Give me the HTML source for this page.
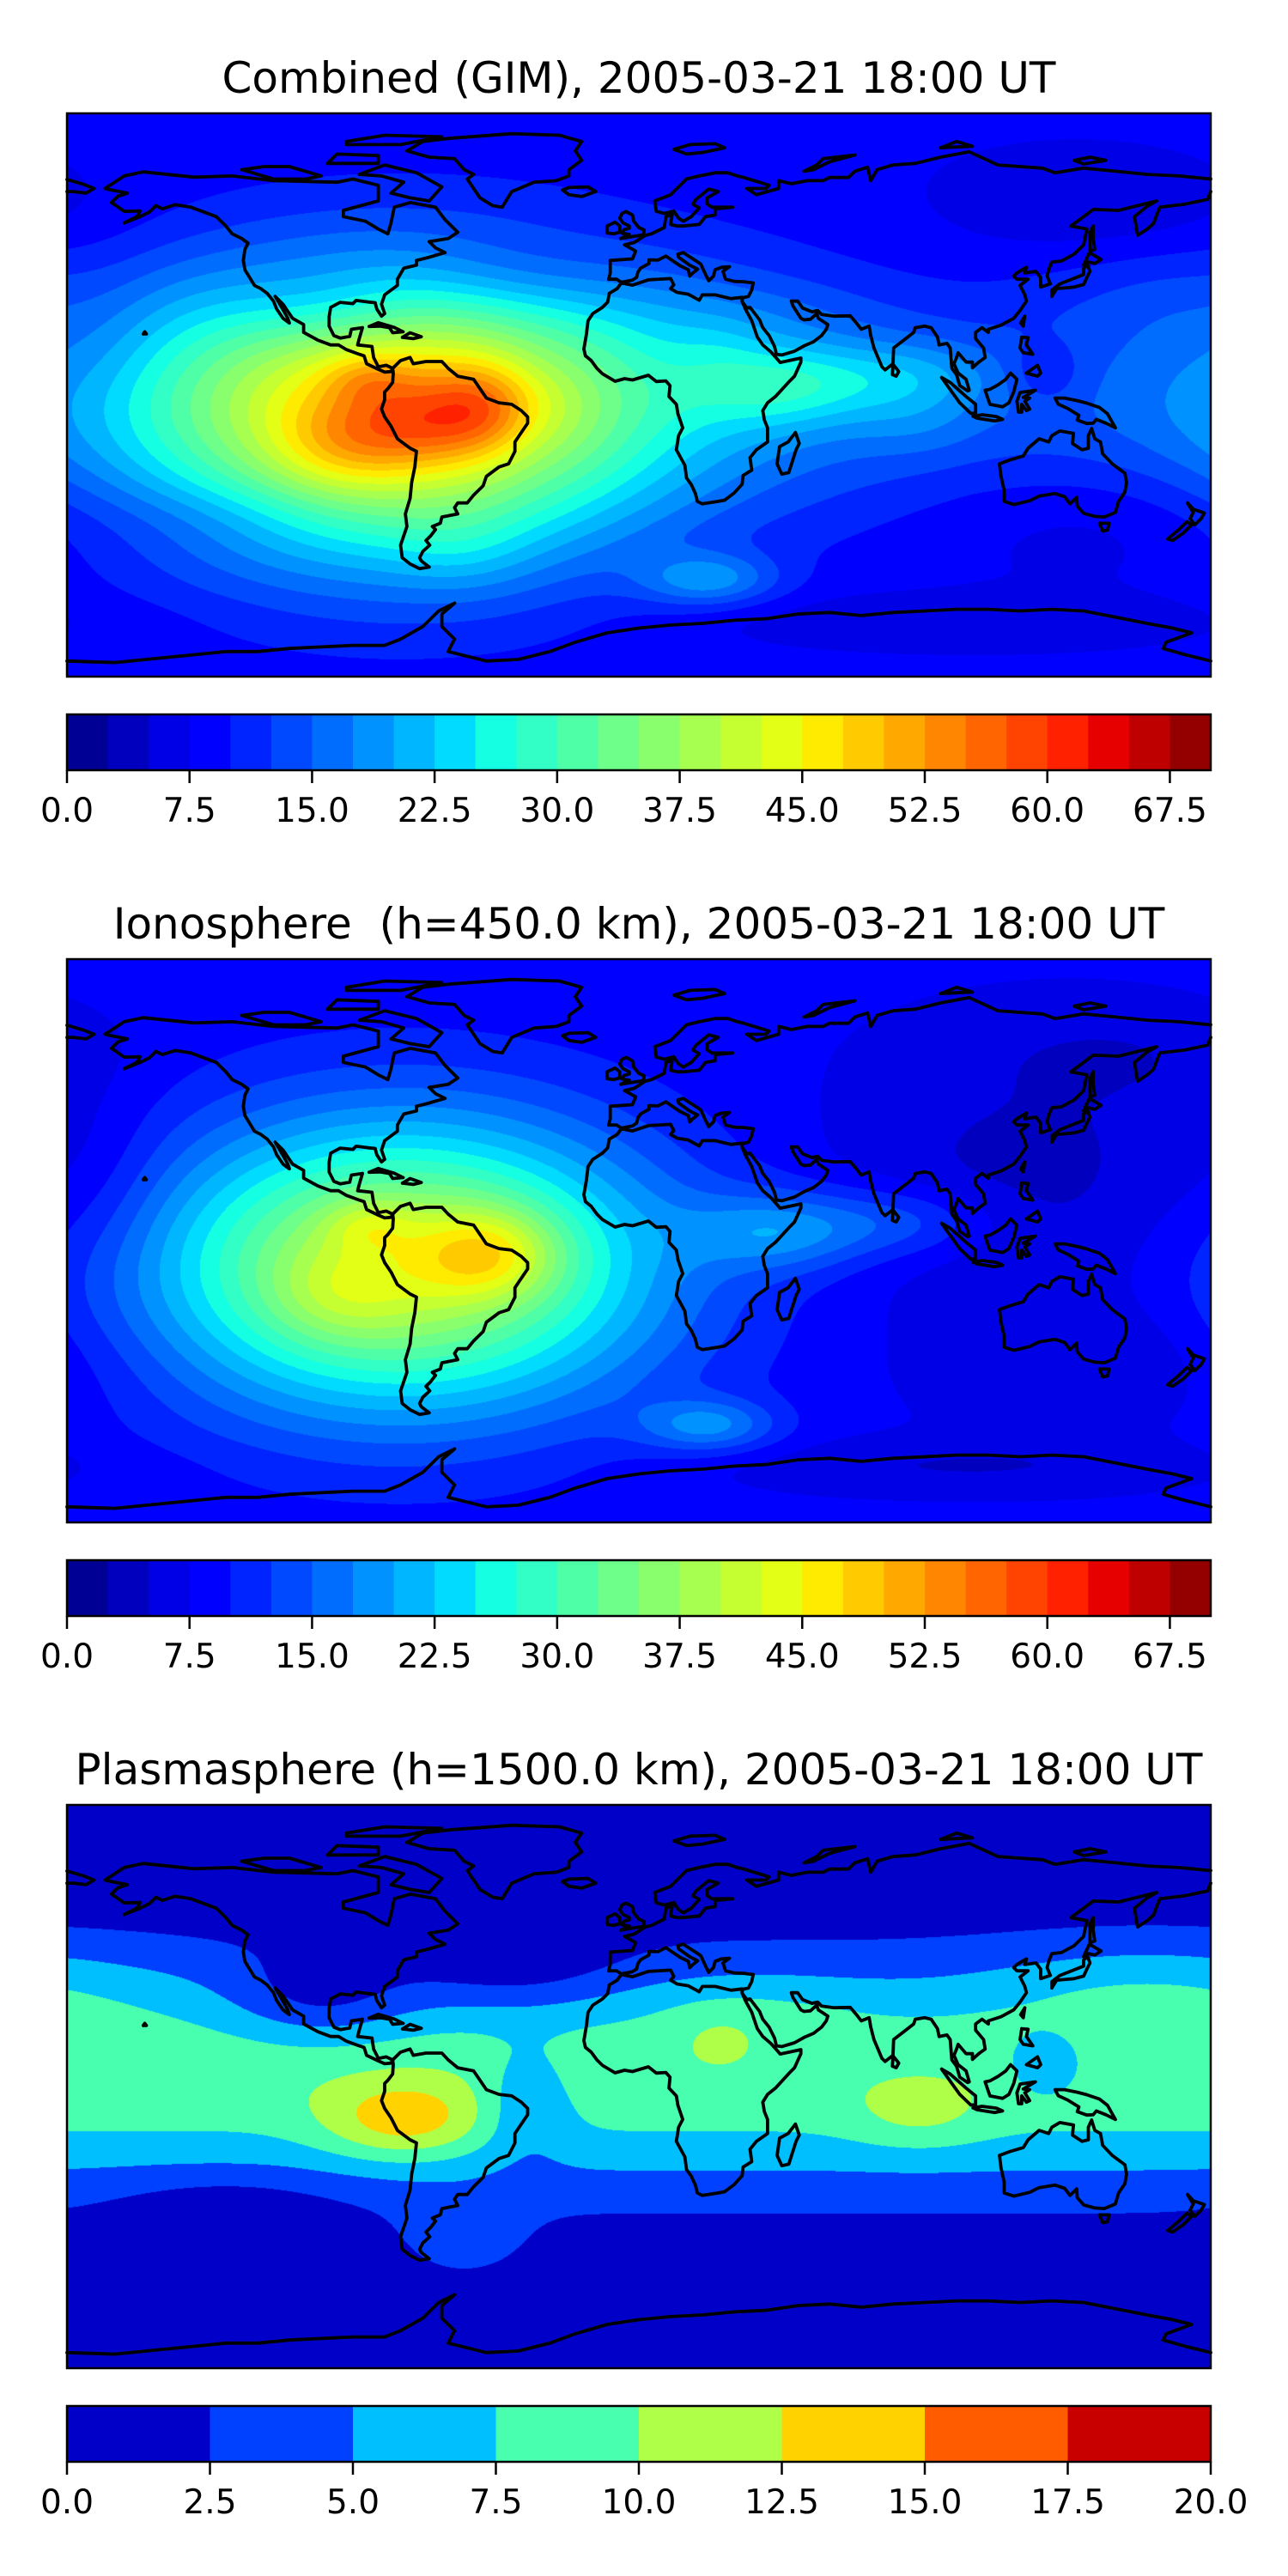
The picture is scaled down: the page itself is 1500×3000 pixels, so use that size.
<!DOCTYPE html>
<html><head><meta charset="utf-8"><style>
html,body{margin:0;padding:0;background:#fff;}
#wrap{position:relative;width:1500px;height:3000px;overflow:hidden;background:#fff;}
canvas{position:absolute;}
svg{position:absolute;left:0;top:0;}
text{font-family:"DejaVu Sans","Liberation Sans",sans-serif;fill:#000;}
</style></head><body>
<div id="wrap">
<canvas id="c0" width="1332" height="656" style="left:78px;top:132px"></canvas>
<canvas id="c1" width="1332" height="656" style="left:78px;top:1117px"></canvas>
<canvas id="c2" width="1332" height="656" style="left:78px;top:2102px"></canvas>
<svg id="ov" width="1500" height="3000"></svg>
</div>
<script>
// ---- data: ionosphere field (base + gaussian blobs) ----
const ionoBase = 8;
const ionoLon  = [-75, -47, -95, -85, 45, 85, 22, 130, 150, 100, 150, -170];
const ionoLat  = [-8, -4, -18, 5, 3, 6, -59, 20, -40, -72, 60, 20];
const ionoAmp  = [34, 11, 4, 5, 9, 6, 9, -4, -3, -3, -2, -2];
const ionoSLon = [55, 15, 15, 10, 20, 20, 15, 50, 40, 60, 30, 15];
const ionoSLat = [32, 10, 10, 6, 9, 8, 6, 30, 15, 6, 10, 20];
// ---- data: plasmasphere field (equatorial band + blobs) ----
const plasBandAmp = 9.2, plasBandLat = 3, plasBandSigma = 27;
const plasLon  = [-74, -100, -35, -40, 25, 35, 88, 160, 128, -130, -55];
const plasLat  = [-11, 28, -5, 38, 15, 25, -9, 32, 7, -38, -50];
const plasAmp  = [6, -4, -3.5, -3, 1.5, 1.5, 2.5, 2.5, -4, -2, 2.5];
const plasSLon = [18, 20, 10, 25, 10, 25, 15, 35, 8, 25, 15];
const plasSLat = [9, 10, 12, 10, 7, 8, 8, 12, 7, 8, 10];
// ---- colorbar data ----
const tecTicks = [0, 7.5, 15, 22.5, 30, 37.5, 45, 52.5, 60, 67.5];
const plasTicks = [0, 2.5, 5, 7.5, 10, 12.5, 15, 17.5, 20];
const titles = ["Combined (GIM), 2005-03-21 18:00 UT",
  "Ionosphere  (h=450.0 km), 2005-03-21 18:00 UT",
  "Plasmasphere (h=1500.0 km), 2005-03-21 18:00 UT"];

const W = 1332, H = 656, X0 = 78, TOP = [132, 1117, 2102];
function lonX(lon){ return X0 + (lon + 180) / 360 * W; }
function latY(lat, p){ return TOP[p] + (90 - lat) / 180 * H; }

function interp(x, pts){
  for (let i = 1; i < pts.length; i++) {
    if (x <= pts[i][0]) { const a = pts[i-1], b = pts[i]; return a[1] + (b[1]-a[1]) * (x-a[0]) / (b[0]-a[0]); }
  }
  return pts[pts.length-1][1];
}
function jet(t){
  const r = interp(t, [[0,0],[0.35,0],[0.66,1],[0.89,1],[1,0.5]]);
  const g = interp(t, [[0,0],[0.125,0],[0.375,1],[0.64,1],[0.91,0],[1,0]]);
  const b = interp(t, [[0,0.5],[0.11,1],[0.34,1],[0.65,0],[1,0]]);
  return [Math.round(r*255), Math.round(g*255), Math.round(b*255)];
}
function field(base, lons, lats, amps, sl, st){
  const F = new Float32Array(W*H).fill(base);
  for (let k = 0; k < lons.length; k++) {
    const gx = new Float32Array(W), gy = new Float32Array(H);
    for (let i = 0; i < W; i++) {
      const lon = -180 + (i+0.5)/W*360;
      let d = Math.abs(lon - lons[k]); if (d > 180) d = 360 - d;
      gx[i] = Math.exp(-d*d/(2*sl[k]*sl[k]));
    }
    for (let j = 0; j < H; j++) {
      const lat = 90 - (j+0.5)/H*180, d = lat - lats[k];
      gy[j] = amps[k] * Math.exp(-d*d/(2*st[k]*st[k]));
    }
    for (let j = 0; j < H; j++) { const o = j*W, y = gy[j]; for (let i = 0; i < W; i++) F[o+i] += y*gx[i]; }
  }
  return F;
}
const iono = field(ionoBase, ionoLon, ionoLat, ionoAmp, ionoSLon, ionoSLat);
const plas = field(0, plasLon, plasLat, plasAmp, plasSLon, plasSLat);
for (let j = 0; j < H; j++) {
  const lat = 90 - (j+0.5)/H*180, d = lat - plasBandLat;
  const v = plasBandAmp * Math.exp(-d*d/(2*plasBandSigma*plasBandSigma));
  for (let i = 0; i < W; i++) plas[j*W+i] += v;
}
const comb = new Float32Array(W*H);
for (let n = 0; n < W*H; n++) comb[n] = iono[n] + plas[n];

function paint(id, F, nb){
  const ctx = document.getElementById(id).getContext('2d');
  const img = ctx.createImageData(W, H);
  const cols = []; for (let b = 0; b < nb; b++) cols.push(jet((b+0.5)/nb));
  for (let n = 0; n < W*H; n++) {
    let b = Math.floor(F[n]/2.5); if (b < 0) b = 0; if (b > nb-1) b = nb-1;
    const c = cols[b]; img.data[4*n] = c[0]; img.data[4*n+1] = c[1]; img.data[4*n+2] = c[2]; img.data[4*n+3] = 255;
  }
  ctx.putImageData(img, 0, 0);
}
paint('c0', comb, 28); paint('c1', iono, 28); paint('c2', plas, 8);

// ---- coastlines (lon,lat) ----
const coasts = [
[[-168,66],[-162,70],[-156,71.3],[-140,69.6],[-128,70],[-115,68.5],[-95,68],[-90,69],[-82,67],[-82,62],[-93,59],[-93,57],[-86,55.5],[-82,53],[-79,51.5],[-78,55],[-77,60],[-72,61.5],[-64,60],[-61,56],[-57,52],[-60,50],[-66,49],[-64,47],[-61,45.5],[-66,44],[-70,43],[-70,41.5],[-74,40.5],[-76,37],[-76,35],[-80,32],[-81,29],[-80,26],[-81,25.2],[-82.5,27.5],[-83,29.5],[-85,29.7],[-89,30.2],[-90,29.2],[-94,29.6],[-97,28],[-97.5,25],[-97.5,22],[-96,19],[-94,18.2],[-91,18.7],[-90.5,21],[-87,21.5],[-88,18],[-88.5,16],[-84,15.5],[-83.5,12],[-82,9],[-79.5,9.5],[-77.5,8.5],[-78,7.5],[-80,7.3],[-82,8.2],[-85.7,10],[-86.5,12.5],[-88,13],[-92,14.5],[-94.5,16],[-97,16],[-101,17.5],[-105.5,20],[-105.5,22.5],[-109,24.5],[-112,29],[-114.5,31.5],[-113,29],[-110.5,24.5],[-110,23],[-112,24.5],[-114,27.5],[-115,30],[-117,32.5],[-119,34],[-121,35],[-122.5,37.5],[-124,40],[-124.5,43],[-124,46.5],[-123,48.5],[-125,50],[-128,51.5],[-130,54],[-133,57],[-137,58.5],[-141,60],[-146,60.8],[-150,59.5],[-152,60.5],[-154,58.5],[-157,57],[-162,55],[-158,57],[-157,58.8],[-162,58.7],[-164.5,60.5],[-166,61.5],[-164,63.5],[-161,64.5],[-166,65.5],[-168,66]],
[[-73,78],[-68,81],[-60,82],[-40,83.5],[-25,83],[-18,81],[-20,78],[-18,75],[-22,72],[-22,70],[-26,68.5],[-33,68],[-40,65],[-43,60],[-46,60.5],[-50,63],[-52,66],[-54,69],[-52,70.5],[-55,72],[-58,75.5],[-66,76],[-73,78]],
[[-62,66.5],[-66,62],[-72,63],[-78,64.5],[-74,68],[-81,70],[-88,70.5],[-80,73.5],[-70,71],[-62,66.5]],
[[-110,73],[-118,73],[-125,72],[-115,69],[-105,69],[-100,70],[-110,73]],
[[-92,80],[-75,80],[-62,82.5],[-80,83],[-92,81],[-92,80]],
[[-98,74],[-82,74],[-82,76.5],[-95,77],[-98,74]],
[[-77.5,8.5],[-75,11],[-72,12],[-71,10],[-67,10.7],[-62,10.7],[-60,8.5],[-57,6],[-52,5],[-50,2],[-48,-1],[-44,-2.5],[-40,-3],[-37,-5],[-35,-7],[-35,-9],[-37,-12],[-39,-15],[-39,-18],[-41,-22],[-44,-23],[-48,-26],[-49,-29],[-52,-32],[-54,-34.5],[-57,-34.5],[-58,-36],[-57,-38],[-62,-39],[-62.5,-41],[-65,-42],[-64,-43],[-65.5,-45],[-67,-46.5],[-65.8,-48],[-68,-50],[-69,-52],[-68.5,-53],[-66,-55],[-69,-55.5],[-72,-54],[-74.5,-52],[-75,-48],[-74,-45],[-73,-42],[-73.5,-38],[-72,-33],[-71.5,-28],[-70.5,-23],[-70,-18],[-72,-17],[-76,-14],[-78,-10],[-80,-7],[-81,-4.5],[-80,-1.5],[-80,1],[-79,2],[-77.5,4],[-77.3,7],[-77.5,8.5]],
[[-9.5,37],[-9,39],[-9,43],[-2,43.5],[-1,46],[-4.5,48],[-1.5,48.7],[2,51],[4,51.5],[8,53.5],[8.5,57],[10.5,57.7],[10,54.5],[12,54],[14,54],[19,54.5],[21,57],[24,57.5],[24,59.5],[29.5,60],[23,60],[21.5,61],[21.5,63],[25,65],[22,65.8],[18,62.5],[17,61],[19,59.8],[16.5,57],[14,55.5],[12.5,56.5],[11,58.8],[8,58],[5.5,58.7],[5,62],[10,64],[13,67],[15,69],[19,70],[24,71],[28,71],[31,70],[33,69.5],[41,67],[40,66],[34,66],[37,64],[44,66],[44,68.5],[48,67.5],[53,68.5],[58,68.5],[60,69.5],[66,69.5],[68,71.5],[72,72.8],[73,68.5],[75,72],[80,73.5],[87,74],[95,76],[104,77.7],[113,73.5],[120,73],[127,72.5],[131,71],[140,72.5],[150,71.5],[160,70.5],[170,70],[180,69]],
[[180,65],[179,62.5],[172,61],[164,60],[163,57.5],[162,54.8],[160,53],[157,51],[156,57],[160,60.3],[163,62],[155,60],[151,59],[143,59.3],[140,57],[136,54],[141,53],[140,48],[137,45],[133,42.8],[130,42.5],[129,40],[128.5,38],[129.5,35.5],[126.5,34.5],[126.5,37.5],[125,39.5],[121.5,39],[122,40.8],[119,39],[118,38],[119,37],[122.5,37],[120,35],[121.5,32],[122,30],[120,27],[118,24.5],[114,22.3],[110,21],[110,20],[108,21.5],[106,20],[106,18],[108.5,15],[109,12],[107,10.5],[105,8.7],[105,10.5],[103,10.5],[100.5,13.5],[100,12],[99.2,10],[100.5,7],[103,5],[104,1.5],[103.5,1.3],[101,3],[100,6.5],[98.5,8.5],[98,15],[97,16.5],[94.5,16],[94,18.5],[92,21.5],[90,22],[87,21.5],[86.5,20],[84,18],[80.2,15],[80,10],[77.5,8],[76.5,9],[74,15],[73,19],[72.5,22],[70,21],[68.5,23],[66.5,25.3],[61.5,25.2],[57.5,25.7],[56.3,27],[54.5,26.6],[51.5,27.8],[50,30],[48,30],[48.5,28.5],[51,24.5],[52,24],[54,24.2],[56,26],[56.5,24.5],[59.5,22.5],[59,21],[57.5,19],[55,17],[52,15.7],[49,14],[45,12.8],[43.3,13],[42.7,15.5],[41,19],[39,21.5],[38,24],[35,28],[34,27.8],[32.5,29.8],[32.5,31],[34.5,31.5],[35.5,33.5],[36,35.8],[33,36.2],[30,36.3],[27.3,37],[26.5,39.5],[28.5,41],[26,40.8],[24,40],[23.5,38],[22,36.5],[21,38.5],[19.5,41.8],[18.5,42.5],[15.5,44.5],[14,45.5],[12.3,45],[12.5,44],[16,41.5],[18.5,40.2],[17,39],[16,38],[15.6,40],[13,41.3],[10.5,43],[8.5,44.4],[6,43.1],[3.2,43.2],[3.2,42],[0.5,40.5],[-0.3,39.3],[-0.7,37.6],[-2,36.7],[-5.5,36],[-7,37],[-9.5,37]],
[[-5.5,35.8],[-2,35.1],[3,36.8],[10,37.2],[11,35.2],[10,34],[12,32.8],[15.5,32.2],[19,30.3],[20,32],[24,32],[29,30.8],[32.5,31.2],[32.5,29.9],[33.5,27.5],[35.5,23.8],[37.3,18.5],[39,16],[41.5,13.8],[43.3,11.8],[44.5,10.4],[51,11.8],[51,10.5],[49,6],[47.5,4.5],[43,-0.5],[40.5,-2.5],[39,-5],[39.5,-8],[40.5,-10.5],[40.5,-15],[37,-17.5],[35,-20],[35.5,-24],[32.8,-25.7],[32.5,-28.5],[30,-31.3],[27,-33.6],[25,-34],[20,-34.8],[18.4,-34],[17.8,-31.5],[16.5,-28.6],[15,-26.5],[14.5,-22.5],[11.8,-17.5],[12.5,-13],[13.8,-10.5],[12.3,-6],[11.8,-3],[9.5,-0.5],[9.8,3],[8.5,4.5],[5.5,4.3],[3,6.3],[-2,4.8],[-4.5,5.2],[-7.5,4.4],[-11.5,6.8],[-13.2,8.5],[-15,11],[-16.8,12.5],[-17.3,14.7],[-16.5,19.5],[-16,23.7],[-14.5,26],[-11.5,28],[-9.8,29.7],[-9.3,32.5],[-6.8,34],[-5.5,35.8]],
[[49.3,-12],[50.5,-15.5],[49.5,-17.5],[47.2,-24.8],[45,-25.3],[43.5,-22],[44.3,-16.5],[47,-15],[49.3,-12]],
[[113.5,-22],[114,-26],[115,-30.5],[115,-34],[118,-35],[123,-33.8],[126,-32.3],[131,-31.5],[134,-32.5],[135.7,-34.8],[137.8,-32.7],[138,-35.5],[140,-37.8],[143.5,-38.8],[146.5,-39],[150,-37.5],[151,-34],[153,-31],[153.5,-28],[153,-25],[149,-22],[146,-18.8],[145.3,-15],[143.5,-14],[142.5,-10.7],[141.5,-13],[141.5,-17],[139.5,-17.5],[136.5,-15.5],[136.8,-12.3],[132.5,-11.5],[130,-13],[129,-15],[126,-14],[122.5,-17],[121,-19.5],[117,-20.7],[113.5,-22]],
[[145,-41],[148,-41],[147.5,-43.2],[146,-43.5],[145,-41]],
[[172.7,-34.5],[174.5,-36.5],[178,-37.7],[177,-39.5],[175,-41.5],[173.5,-39.5],[174.5,-37.5],[172.7,-34.5]],
[[172.5,-40.5],[174,-41.5],[171.5,-44],[168,-46.5],[166.5,-46],[170,-43],[172.5,-40.5]],
[[130,31.5],[131.5,34],[135,34.3],[137,34.5],[140,35.3],[141,37.5],[142,39.5],[141.3,41.5],[140,40.5],[140,38.5],[136.8,37.2],[132.5,35.5],[130,33.5],[130,31.5]],
[[140,41.5],[141.5,42.5],[143.5,42],[145.5,43.3],[141.8,45.5],[140,41.5]],
[[142,46],[143.5,46.5],[143,50],[143,54],[142,52],[142,46]],
[[-5.7,50],[1.5,51.2],[1.7,52.7],[0,53.5],[-1.6,55.5],[-2,57.5],[-4,58.6],[-5.3,58],[-6,56.5],[-5,55],[-3,54],[-3,53.3],[-4.7,52.8],[-5.3,51.7],[-3,51.3],[-5.7,50]],
[[-6,52],[-6,54],[-7.5,55.2],[-10,54],[-10,51.8],[-8,51.5],[-6,52]],
[[-22,64],[-24,65.5],[-22,66.3],[-16,66.5],[-13.6,65],[-18,63.4],[-22,64]],
[[80,9.8],[81.8,7.5],[81,6],[79.8,6.5],[80,9.8]],
[[95.3,5.6],[98,4],[103,-0.5],[106,-3],[106,-5.8],[104.5,-5.9],[101,-2.5],[98.5,1],[95.3,5.6]],
[[105.2,-6.8],[108,-6.3],[112.5,-6.9],[114.5,-7.8],[112,-8.3],[106.5,-7.4],[105.2,-6.8]],
[[109,1.5],[110,-1.5],[110.5,-3],[114.5,-3.8],[116.5,-2.5],[118,1],[119,5],[117,7],[115.5,5],[113,3.2],[110.5,1.8],[109,1.5]],
[[119.5,-5.5],[119,-2],[120,0.8],[124.8,1.5],[121,-0.8],[123,-1],[121.5,-2],[123,-4.5],[122,-5],[120.5,-3],[120.5,-5.5],[119.5,-5.5]],
[[131,-1],[134,-1],[138,-1.8],[141,-2.6],[145,-4],[147.5,-6],[150,-10.5],[147,-9],[144,-7.8],[143,-9],[141,-9.1],[138,-8],[138.5,-6.5],[135,-4.3],[132,-2.9],[131,-1]],
[[120.5,18.5],[122.5,18.3],[122,16],[124,13],[121,13.5],[120,15],[120.5,18.5]],
[[122,7],[125.5,9.5],[126.5,7],[125.5,6],[122,7]],
[[120.2,23],[121.5,25.2],[121,22],[120.2,23]],
[[-84.9,21.9],[-82,23.1],[-77,21.6],[-74.2,20.2],[-77.5,19.9],[-78.5,21.5],[-81.5,22],[-84.9,21.9]],
[[-74.4,18.4],[-72,19.9],[-68.5,18.6],[-71,18],[-74.4,18.4]],
[[-156,19.5],[-155,19.5],[-155.5,20.2],[-156,19.5]],
[[52,71.5],[56,73.5],[58,75.5],[68,76.7],[60,74.5],[55,72],[52,71.5]],
[[11,78.5],[16,80],[24,80.3],[27,79],[20,77.5],[15,77],[11,78.5]],
[[95,79],[105,79.5],[100,81],[95,79]],
[[137,75],[142,76],[147,75],[140,73.8],[137,75]],
[[-180,68.9],[-175,67.4],[-171.5,66],[-174,64.5],[-178,65],[-180,65]],
[[-180,-85],[-165,-85.5],[-150,-84],[-140,-83],[-130,-82],[-120,-82],[-110,-81],[-100,-80.5],[-90,-80],[-80,-80],[-75,-78],[-68,-74],[-63,-69],[-58,-66.5],[-62,-70],[-62,-74],[-58,-78],[-60,-82],[-48,-85],[-38,-84.5],[-28,-82],[-20,-79],[-10,-76],[0,-74.5],[10,-73.5],[20,-73],[30,-72],[40,-71.5],[50,-70],[60,-69.5],[70,-70.5],[80,-69.5],[90,-69],[100,-68.5],[110,-68.5],[120,-69],[130,-68.5],[140,-69],[150,-71],[160,-73],[168,-74.5],[174,-76],[166,-79],[165,-81],[172,-83],[180,-85]]
];

const NS = 'http://www.w3.org/2000/svg';
const svg = document.getElementById('ov');
function el(tag, attrs, parent){
  const e = document.createElementNS(NS, tag);
  for (const k in attrs) e.setAttribute(k, attrs[k]);
  (parent || svg).appendChild(e); return e;
}
const panelNames = ['combined', 'ionosphere', 'plasmasphere'];
for (let p = 0; p < 3; p++) {
  const g = el('g', {});
  
  
  const t = el('text', {x: 744, y: TOP[p] - 24, 'text-anchor': 'middle', 'font-size': 50}, g);
  t.setAttribute('xml:space', 'preserve'); t.style.whiteSpace = 'pre';
  t.textContent = titles[p];
  
  
  const cg = el('g', {fill: 'none', stroke: '#000', 'stroke-width': 3.8, 'stroke-linejoin': 'round', 'stroke-linecap': 'round'}, g);
  
  
  for (const c of coasts) {
    const pts = c.map(q => lonX(q[0]).toFixed(1) + ',' + latY(q[1], p).toFixed(1)).join(' ');
    const pl = el('polyline', {points: pts}, cg);
    
    
  }
  const fr = el('rect', {x: X0, y: TOP[p], width: W, height: H, fill: 'none', stroke: '#000', 'stroke-width': 2.5}, g);
  
  
  const nb = p < 2 ? 28 : 8, vmax = p < 2 ? 70 : 20, ticks = p < 2 ? tecTicks : plasTicks;
  const cy = TOP[p] + 700, ch = 65;
  const cb = el('g', {}, g);
  
  
  for (let b = 0; b < nb; b++) {
    const c = jet((b+0.5)/nb);
    const x1 = X0 + b*2.5/vmax*W, x2 = X0 + (b+1)*2.5/vmax*W;
    const r = el('rect', {x: x1, y: cy, width: x2 - x1 + 0.6, height: ch, fill: 'rgb(' + c.join(',') + ')'}, cb);
    
    
  }
  el('rect', {x: X0, y: cy, width: W, height: ch, fill: 'none', stroke: '#000', 'stroke-width': 2.5}, cb);
  for (const v of ticks) {
    const x = X0 + v/vmax*W;
    el('line', {x1: x, x2: x, y1: cy + ch, y2: cy + ch + 15, stroke: '#000', 'stroke-width': 2.5}, cb);
    const tl = el('text', {x: x, y: TOP[p] + 825, 'text-anchor': 'middle', 'font-size': 39}, cb);
    tl.textContent = v.toFixed(1);
    
    
  }
}
</script>
</body></html>
